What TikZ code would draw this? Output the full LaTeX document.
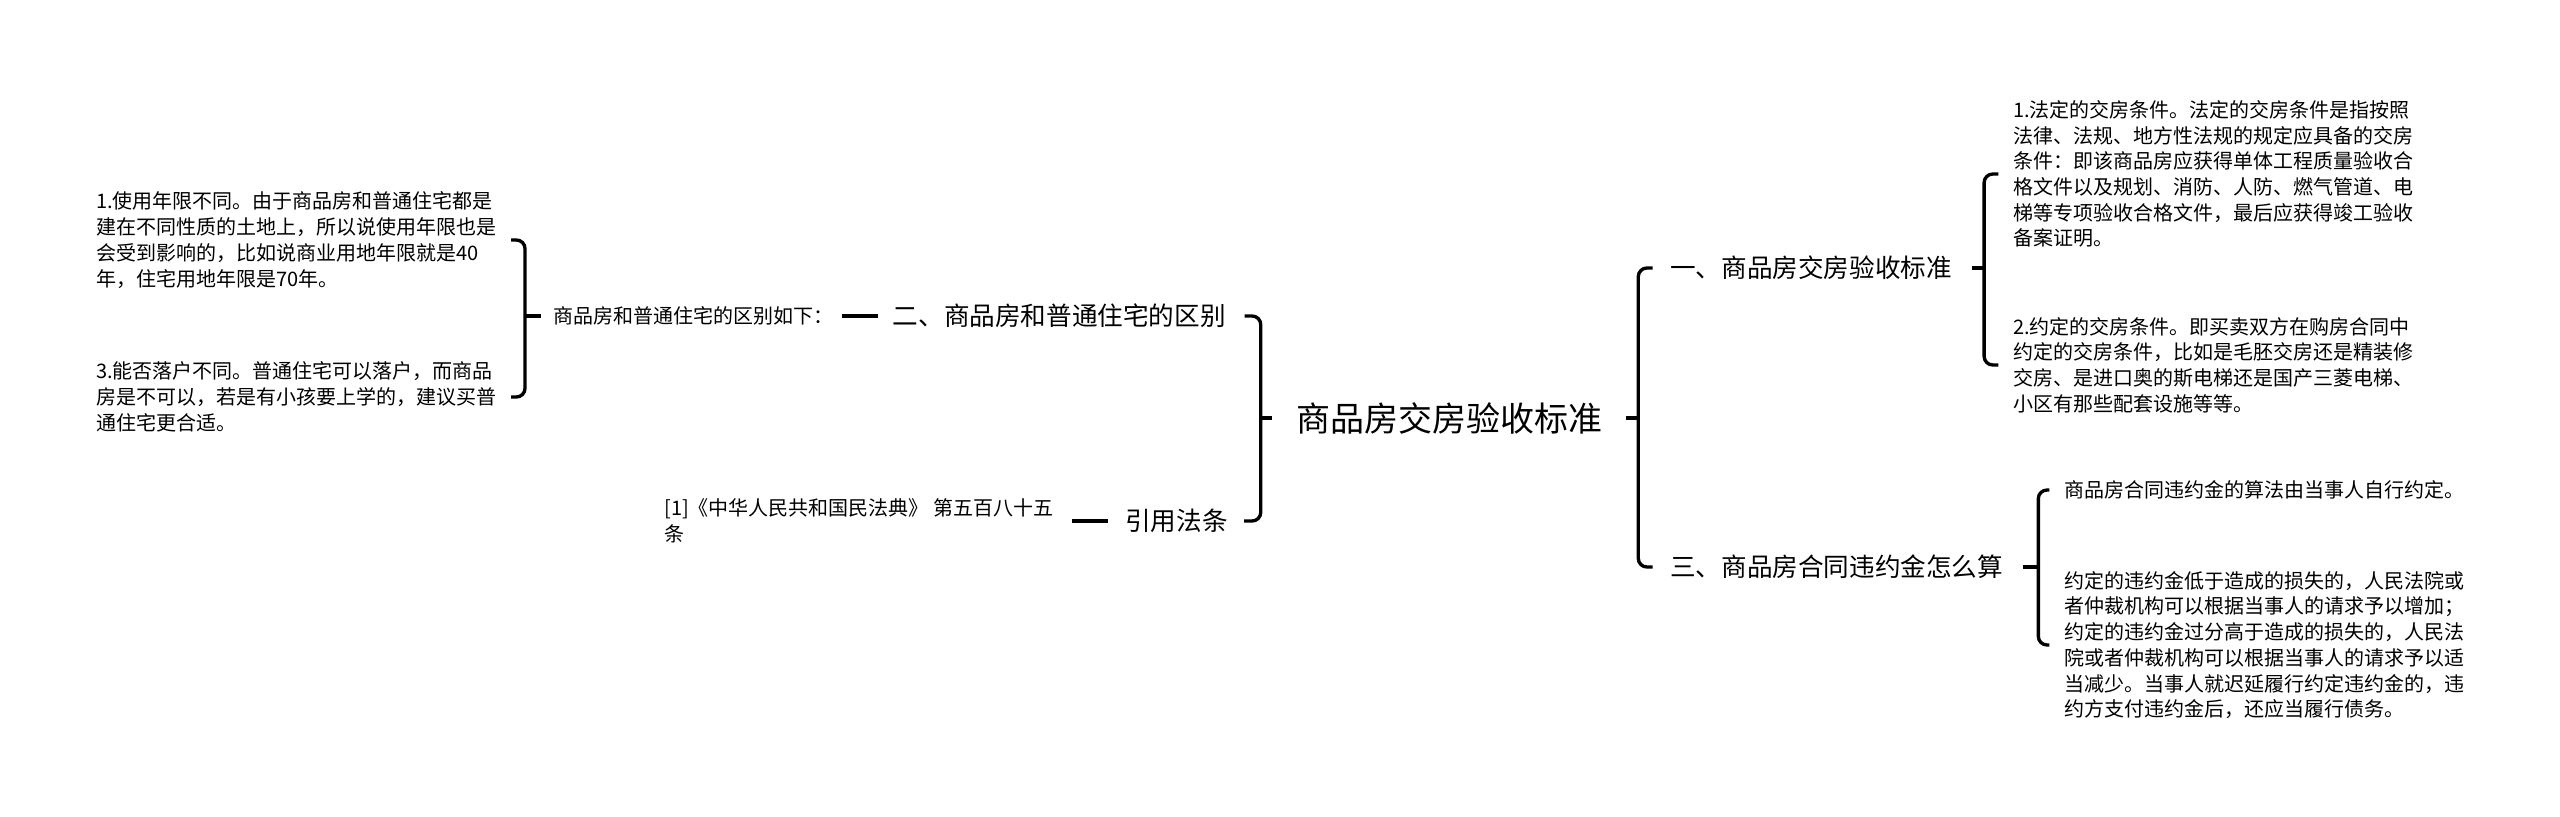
\documentclass[tikz,border=0pt]{standalone}
\usepackage{fontspec}
\setmainfont{Noto Sans CJK SC}
\usetikzlibrary{calc}

\begin{document}
\begin{tikzpicture}[
      x=0.75pt, y=-0.75pt,
      link/.style={line width=2.5pt, draw=black, rounded corners=6.5pt},
      leaf/.style={inner sep=0pt, align=left, font=\fontsize{15pt}{19.3pt}\selectfont},
      topic/.style={inner sep=0pt, font=\fontsize{19.2pt}{23pt}\selectfont},
      rootbox/.style={inner sep=0pt, font=\fontsize{25.5pt}{30pt}\selectfont}
    ]
      \useasboundingbox (0,0) rectangle (2560,817);
      % centre and main branches
      \node[rootbox] (root) at (1449,418) {商品房交房验收标准};
      \node[topic, anchor=west] (one) at (1670,268) {一、商品房交房验收标准};
      \node[topic, anchor=west] (three) at (1670,567) {三、商品房合同违约金怎么算};
      \node[topic, anchor=east] (two) at (1226,316) {二、商品房和普通住宅的区别};
      \node[topic, anchor=east] (law) at (1228,521) {引用法条};
      % leaves on the right
      \node[leaf, anchor=west] (legal) at (2013,174) {1.法定的交房条件。法定的交房条件是指按照\\法律、法规、地方性法规的规定应具备的交房\\条件：即该商品房应获得单体工程质量验收合\\格文件以及规划、消防、人防、燃气管道、电\\梯等专项验收合格文件，最后应获得竣工验收\\备案证明。};
      \node[leaf, anchor=west] (agreed) at (2013,365) {2.约定的交房条件。即买卖双方在购房合同中\\约定的交房条件，比如是毛胚交房还是精装修\\交房、是进口奥的斯电梯还是国产三菱电梯、\\小区有那些配套设施等等。};
      \node[leaf, anchor=west] (calcrule) at (2064,490) {商品房合同违约金的算法由当事人自行约定。};
      \node[leaf, anchor=west] (penalty) at (2064,645) {约定的违约金低于造成的损失的，人民法院或\\者仲裁机构可以根据当事人的请求予以增加；\\约定的违约金过分高于造成的损失的，人民法\\院或者仲裁机构可以根据当事人的请求予以适\\当减少。当事人就迟延履行约定违约金的，违\\约方支付违约金后，还应当履行债务。};
      % leaves on the left
      \node[leaf, anchor=west] (diff) at (553,316) {商品房和普通住宅的区别如下：};
      \node[leaf, anchor=west] (years) at (96,240) {1.使用年限不同。由于商品房和普通住宅都是\\建在不同性质的土地上，所以说使用年限也是\\会受到影响的，比如说商业用地年限就是40\\年，住宅用地年限是70年。};
      \node[leaf, anchor=west] (hukou) at (96,397) {3.能否落户不同。普通住宅可以落户，而商品\\房是不可以，若是有小孩要上学的，建议买普\\通住宅更合适。};
      \node[leaf, anchor=west] (code) at (664,521) {[1]《中华人民共和国民法典》 第五百八十五\\条};
      % junctions
      \coordinate (rj) at ($(root.east)+(36,0)$);
      \coordinate (lj) at ($(root.west)+(-35,0)$);
      \coordinate (oj) at ($(one.east)+(32,0)$);
      \coordinate (tj) at ($(three.east)+(35,0)$);
      \coordinate (dj) at ($(diff.west)+(-28,0)$);
      % connectors
      \draw[link, shorten <=18] (root.east) -- (rj);
      \draw[link, shorten >=13] (rj) |- (one.west);
      \draw[link, shorten >=13] (rj) |- (three.west);
      \draw[link, shorten <=18] (root.west) -- (lj);
      \draw[link, shorten >=14] (lj) |- (two.east);
      \draw[link, shorten >=12] (lj) |- (law.east);
      \draw[link, shorten <=15] (one.east) -- (oj);
      \draw[link, shorten >=11] (oj) |- (legal.west);
      \draw[link, shorten >=11] (oj) |- (agreed.west);
      \draw[link, shorten <=15] (three.east) -- (tj);
      \draw[link, shorten >=11] (tj) |- (calcrule.west);
      \draw[link, shorten >=11] (tj) |- (penalty.west);
      \draw[link, shorten <=11, shorten >=6] (two.west) -- (diff.east);
      \draw[link, shorten <=9] (diff.west) -- (dj);
      \draw[link, shorten >=11] (dj) |- (years.east);
      \draw[link, shorten >=11] (dj) |- (hukou.east);
      \draw[link, shorten <=13, shorten >=14] (law.west) -- (code.east);
    \end{tikzpicture}
\end{document}
